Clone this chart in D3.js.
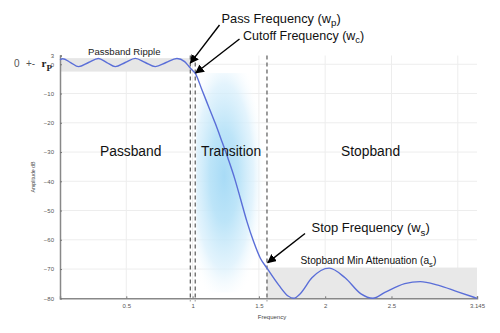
<!DOCTYPE html>
<html>
<head>
<meta charset="utf-8">
<script src="https://cdn.jsdelivr.net/npm/d3@7"></script>
<style>
  html, body { margin: 0; padding: 0; background: #fff; }
  svg { display: block; font-family: "Liberation Sans", Arial, sans-serif; }
</style>
</head>
<body>
<svg id="chart" width="500" height="333"></svg>
<script>
// ---- data ----
const freq = [0, 0.02, 0.08, 0.14, 0.215, 0.29, 0.353, 0.417, 0.492, 0.568, 0.643, 0.719, 0.80, 0.882, 0.94, 0.97, 0.995,
  1.02, 1.071, 1.121, 1.171, 1.222, 1.271, 1.317, 1.36, 1.41, 1.46, 1.511, 1.561,
  1.65, 1.72, 1.762, 1.81, 1.9, 2.03, 2.15, 2.27, 2.36, 2.45, 2.6, 2.717, 2.85, 3.0, 3.145];
const ampDb = [1.5, 1.9, 0.6, -0.8, 0.6, 2.0, 0.6, -0.8, 0.6, 2.0, 0.6, -0.8, 0.6, 2.0, 0.9, -0.6, -1.9,
  -3.1, -8.8, -14.5, -20.2, -26.5, -32.7, -39, -45.8, -53.8, -60.6, -66.3, -69.7,
  -75.5, -79.2, -80, -78.5, -73, -69.7, -73, -78.5, -80, -78, -75, -74.3, -75.5, -77.8, -80];
const xTicks = [0.5, 1, 1.5, 2, 2.5, 3.145];
const xTickLabels = ["0.5", "1", "1.5", "2", "2.5", "3.145"];
const xGrid = [0.5, 1, 1.5, 2, 2.5, 3];
const yTicks = [3, 0, -10, -20, -30, -40, -50, -60, -70, -80];
const yGrid = [0, -10, -20, -30, -40, -50, -60, -70];
const passFreq = 0.983, cutoffFreq = 1.02, stopFreq = 1.561;
const rippleTop = 2.1, rippleBottom = -2.5;
const stopAtten = -69.5;
const regionLabels = ["Passband", "Transition", "Stopband"];

// ---- drawing ----
const svg = d3.select("#chart");
const x = d3.scaleLinear().domain([0, 3.145]).range([60, 477]);
const y = d3.scaleLinear().domain([-80, 3]).range([298.3, 55.5]);

const defs = svg.append("defs");
const grad = defs.append("radialGradient").attr("id", "glow")
  .attr("cx", 0.4).attr("cy", 0.47).attr("r", 0.6);
grad.append("stop").attr("offset", 0).attr("stop-color", "#a8dbf6").attr("stop-opacity", 1);
grad.append("stop").attr("offset", 0.35).attr("stop-color", "#b9e3f8").attr("stop-opacity", 0.95);
grad.append("stop").attr("offset", 0.7).attr("stop-color", "#daf0fc").attr("stop-opacity", 0.75);
grad.append("stop").attr("offset", 1).attr("stop-color", "#ffffff").attr("stop-opacity", 0);

const mk = defs.append("marker").attr("id", "arrow").attr("viewBox", "0 0 10 10")
  .attr("refX", 9).attr("refY", 5).attr("markerWidth", 9).attr("markerHeight", 9)
  .attr("markerUnits", "userSpaceOnUse").attr("orient", "auto");
mk.append("path").attr("d", "M0,0 L10,5 L0,10 z").attr("fill", "#000");

// grid
svg.append("g").selectAll("line").data(yGrid).join("line")
  .attr("x1", x(0)).attr("x2", x(3.145)).attr("y1", d => y(d)).attr("y2", d => y(d))
  .attr("stroke", "#ededed").attr("stroke-width", 1);
svg.append("g").selectAll("line").data(xGrid).join("line")
  .attr("x1", d => x(d)).attr("x2", d => x(d)).attr("y1", y(3)).attr("y2", y(-80))
  .attr("stroke", "#ededed").attr("stroke-width", 1);

// shaded bands
svg.append("rect").attr("x", x(0)).attr("y", y(rippleTop))
  .attr("width", x(passFreq) - x(0)).attr("height", y(rippleBottom) - y(rippleTop))
  .attr("fill", "#e6e6e6");
svg.append("rect").attr("x", x(stopFreq)).attr("y", y(stopAtten))
  .attr("width", x(3.145) - x(stopFreq)).attr("height", y(-80) - y(stopAtten))
  .attr("fill", "#e8e8e8");
svg.append("rect").attr("x", x(cutoffFreq) + 1).attr("y", y(-3))
  .attr("width", x(stopFreq) - x(cutoffFreq) - 2).attr("height", y(-78) - y(-3))
  .attr("fill", "url(#glow)");

// axes
const xAxis = d3.axisBottom(x).tickValues(xTicks).tickFormat((d, i) => xTickLabels[i]).tickSize(-2).tickPadding(5);
const gx = svg.append("g").attr("transform", `translate(0,${y(-80)})`).call(xAxis);
gx.select(".domain").attr("stroke", "#888").attr("stroke-width", 1.5);
gx.selectAll(".tick line").attr("stroke", "#777");
gx.selectAll("text").attr("font-size", 6).attr("fill", "#555");

const yAxis = d3.axisLeft(y).tickValues(yTicks).tickSize(-2).tickPadding(6);
const gy = svg.append("g").attr("transform", `translate(${x(0)},0)`).call(yAxis);
gy.select(".domain").attr("stroke", "#888").attr("stroke-width", 1.5);
gy.selectAll(".tick line").attr("stroke", "#777");
gy.selectAll("text").attr("font-size", 6).attr("fill", "#555");

svg.append("text").attr("x", 272).attr("y", 319).attr("text-anchor", "middle")
  .attr("font-size", 6).attr("fill", "#444").text("Frequency");
svg.append("text").attr("transform", "translate(35,177) rotate(-90)").attr("text-anchor", "middle")
  .attr("font-size", 5.2).attr("fill", "#444").text("Amplitude dB");

// dashed frequency lines
svg.append("g").selectAll("line").data([passFreq, cutoffFreq, stopFreq]).join("line")
  .attr("x1", d => x(d)).attr("x2", d => x(d)).attr("y1", y(3)).attr("y2", y(-80) + 3)
  .attr("stroke", "#666").attr("stroke-width", 1.3).attr("stroke-dasharray", "4,3");

// response curve
const pts = freq.map((f, i) => [f, ampDb[i]]);
svg.append("path").datum(pts)
  .attr("d", d3.line().x(d => x(d[0])).y(d => y(d[1])).curve(d3.curveMonotoneX))
  .attr("fill", "none").attr("stroke", "#5a6ed8").attr("stroke-width", 1.4);

// region labels
const regionX = [100, 201, 341];
svg.append("g").selectAll("text").data(regionLabels).join("text")
  .attr("x", (d, i) => regionX[i]).attr("y", 155.5)
  .attr("font-size", 13.8).attr("fill", "#111").text(d => d);

// annotations
svg.append("text").attr("x", 88).attr("y", 55).attr("font-size", 9.6).attr("fill", "#222").text("Passband Ripple");

function subText(xp, yp, size, main, sub, tail) {
  const t = svg.append("text").attr("x", xp).attr("y", yp).attr("font-size", size).attr("fill", "#111");
  t.append("tspan").text(main);
  t.append("tspan").attr("dy", size * 0.25).attr("font-size", size * 0.75).text(sub);
  t.append("tspan").attr("dy", -size * 0.25).text(tail);
  return t;
}
subText(221.5, 22.5, 12.8, "Pass Frequency (w", "p", ")");
subText(243, 39.5, 12.5, "Cutoff Frequency (w", "c", ")");
subText(311.5, 232.3, 13, "Stop Frequency (w", "s", ")");
subText(300.5, 264, 10.2, "Stopband Min Attenuation (a", "s", ")");

// 0 +- r_p label
svg.append("text").attr("x", 14).attr("y", 67).attr("font-size", 10).attr("fill", "#555").text("0");
svg.append("text").attr("x", 26).attr("y", 67).attr("font-size", 10).attr("fill", "#555").text("+-");
const rp = svg.append("text").attr("x", 41.5).attr("y", 67)
  .attr("font-family", "'Liberation Serif', 'DejaVu Serif', serif").attr("font-weight", "bold")
  .attr("font-size", 11).attr("fill", "#222");
rp.append("tspan").text("r");
rp.append("tspan").attr("dy", 3.5).attr("font-size", 9).text("P");

// arrows
const arrows = [
  { from: [219.5, 25], to: [x(passFreq), y(0.4)] },
  { from: [239.5, 39], to: [x(cutoffFreq) + 0.5, y(-3)] },
  { from: [305, 233.5], to: [x(stopFreq) + 0.8, y(-67.8)] }
];
svg.append("g").selectAll("line").data(arrows).join("line")
  .attr("x1", d => d.from[0]).attr("y1", d => d.from[1])
  .attr("x2", d => d.to[0]).attr("y2", d => d.to[1])
  .attr("stroke", "#000").attr("stroke-width", 1.4).attr("marker-end", "url(#arrow)");
</script>
</body>
</html>
